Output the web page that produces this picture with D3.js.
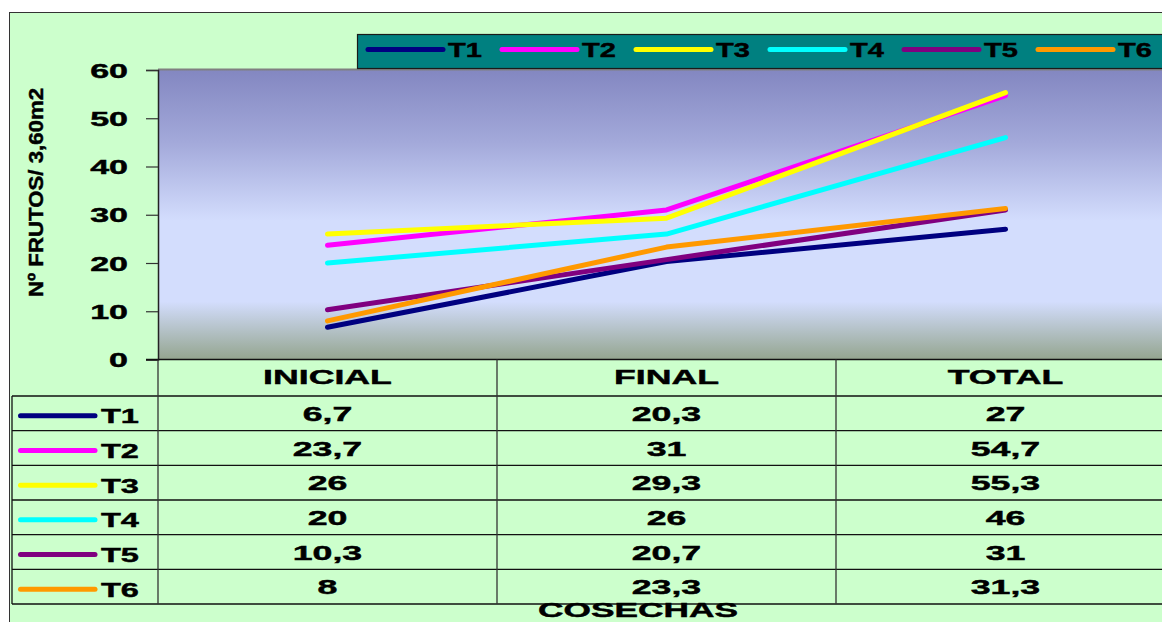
<!DOCTYPE html>
<html>
<head>
<meta charset="utf-8">
<script src="https://cdn.jsdelivr.net/npm/d3@7"></script>
<style>
html,body{margin:0;padding:0;background:#fff;}
svg{display:block;}
text{font-family:"Liberation Sans",Arial,sans-serif;font-weight:bold;fill:#000;stroke:#000;stroke-width:0.45px;}
</style>
</head>
<body>
<svg id="chart" width="1162" height="622"></svg>
<script>
const categories = ["INICIAL", "FINAL", "TOTAL"];
const seriesNames = ["T1", "T2", "T3", "T4", "T5", "T6"];
const T1 = [6.7, 20.3, 27];
const T2 = [23.7, 31, 54.7];
const T3 = [26, 29.3, 55.3];
const T4 = [20, 26, 46];
const T5 = [10.3, 20.7, 31];
const T6 = [8, 23.3, 31.3];
const seriesValues = [T1, T2, T3, T4, T5, T6];
const seriesColors = ["#000080", "#FF00FF", "#FFFF00", "#00FFFF", "#800080", "#FF9900"];
const yTicks = [0, 10, 20, 30, 40, 50, 60];
const yTitle = "Nº FRUTOS/ 3,60m2";
const xTitle = "COSECHAS";

const fmt = v => String(v).replace(".", ",");

const svg = d3.select("#chart");
const W = 1162, H = 622;

// outer frame
svg.append("rect").attr("x", 9.5).attr("y", 12.5).attr("width", 1300).attr("height", 700)
  .attr("fill", "#CCFFCC").attr("stroke", "#333").attr("stroke-width", 1);

const plot = {left: 158, right: 1175, top: 70, bottom: 359.5};

const x = d3.scaleBand().domain(categories).range([plot.left, plot.right]);
const y = d3.scaleLinear().domain([0, 60]).range([plot.bottom, plot.top]);

// gradient
const defs = svg.append("defs");
const grad = defs.append("linearGradient").attr("id", "bg").attr("x1", 0).attr("y1", 0).attr("x2", 0).attr("y2", 1);
[[0, "#8387C1"], [0.25, "#A3A9DA"], [0.52, "#D3DDFD"], [0.8, "#D3DDFD"], [1, "#94A58F"]]
  .forEach(([o, c]) => grad.append("stop").attr("offset", o).attr("stop-color", c));

svg.append("rect").attr("x", plot.left).attr("y", plot.top)
  .attr("width", plot.right - plot.left).attr("height", plot.bottom - plot.top)
  .attr("fill", "url(#bg)");
svg.append("line").attr("x1", plot.left).attr("x2", W).attr("y1", plot.top - 0.5).attr("y2", plot.top - 0.5)
  .attr("stroke", "#808080").attr("stroke-width", 2);

// legend box
const lg = svg.append("g");
lg.append("rect").attr("x", 357.5).attr("y", 34.5).attr("width", 900).attr("height", 34)
  .attr("fill", "#008080").attr("stroke", "#1a1a1a").attr("stroke-width", 1.2);
seriesNames.forEach((n, i) => {
  const tx = 448 + i * 134;
  lg.append("line").attr("x1", tx - 80).attr("x2", tx - 5).attr("y1", 49.5).attr("y2", 49.5)
    .attr("stroke", seriesColors[i]).attr("stroke-width", 5).attr("stroke-linecap", "round");
  lg.append("text").attr("transform", `translate(${tx},56.8) scale(1.45,1)`)
    .attr("font-size", 20).text(n);
});

// y axis
const yAxis = d3.axisLeft(y).tickValues(yTicks).tickSize(12).tickFormat(d => d);
const ga = svg.append("g").attr("transform", `translate(${plot.left},0)`).call(yAxis);
ga.select(".domain").attr("stroke", "#222").attr("stroke-width", 1.5);
ga.selectAll(".tick line").attr("stroke", "#333").attr("stroke-width", 1.2);
ga.selectAll(".tick text").attr("x", null).attr("dy", "0.36em")
  .attr("transform", "translate(-30,0) scale(1.7,1)")
  .attr("font-size", 20).attr("font-family", "Liberation Sans, Arial, sans-serif")
  .attr("font-weight", "bold").attr("fill", "#000").attr("text-anchor", "end");

// y title
svg.append("text").attr("transform", "translate(43,192.5) rotate(-90)")
  .attr("text-anchor", "middle").attr("font-size", 21)
  .attr("textLength", 209).attr("lengthAdjust", "spacingAndGlyphs").text(yTitle);

// lines
const line = d3.line().x((d, i) => x(categories[i]) + x.bandwidth() / 2).y(d => y(d));
seriesValues.forEach((vals, i) => {
  svg.append("path").datum(vals).attr("d", line).attr("fill", "none")
    .attr("stroke", seriesColors[i]).attr("stroke-width", 5)
    .attr("stroke-linecap", "round").attr("stroke-linejoin", "round");
});

svg.append("line").attr("x1", 146).attr("x2", W).attr("y1", plot.bottom).attr("y2", plot.bottom)
  .attr("stroke", "#111").attr("stroke-width", 1.5);

// data table
const tTop = 396, rowH = (604 - 396) / 6, tLeft = 12;
const tg = svg.append("g");
d3.range(7).forEach(k => {
  tg.append("line").attr("x1", tLeft).attr("x2", W).attr("y1", tTop + k * rowH).attr("y2", tTop + k * rowH)
    .attr("stroke", "#111").attr("stroke-width", 1.3);
});
tg.append("line").attr("x1", tLeft).attr("x2", tLeft).attr("y1", tTop).attr("y2", 604)
  .attr("stroke", "#111").attr("stroke-width", 1.3);
categories.forEach(c => {
  const xx = x(c);
  tg.append("line").attr("x1", xx).attr("x2", xx).attr("y1", plot.bottom).attr("y2", 604)
    .attr("stroke", "#333").attr("stroke-width", 1.3);
});
categories.forEach(c => {
  tg.append("text").attr("transform", `translate(${x(c) + x.bandwidth() / 2},384) scale(1.7,1)`)
    .attr("text-anchor", "middle").attr("font-size", 21).text(c);
});
seriesNames.forEach((n, i) => {
  const cy = tTop + i * rowH + rowH / 2;
  tg.append("line").attr("x1", 20.5).attr("x2", 95).attr("y1", cy + 2.5).attr("y2", cy + 2.5)
    .attr("stroke", seriesColors[i]).attr("stroke-width", 5).attr("stroke-linecap", "round");
  tg.append("text").attr("transform", `translate(101,${cy + 10}) scale(1.55,1)`)
    .attr("font-size", 21).text(n);
  seriesValues[i].forEach((v, j) => {
    tg.append("text").attr("transform", `translate(${x(categories[j]) + x.bandwidth() / 2},${cy + 7.5}) scale(1.7,1)`)
      .attr("text-anchor", "middle").attr("font-size", 21).text(fmt(v));
  });
});

svg.append("text").attr("transform", "translate(638,617) scale(1.68,1)")
  .attr("text-anchor", "middle").attr("font-size", 21).text(xTitle);
</script>
</body>
</html>
